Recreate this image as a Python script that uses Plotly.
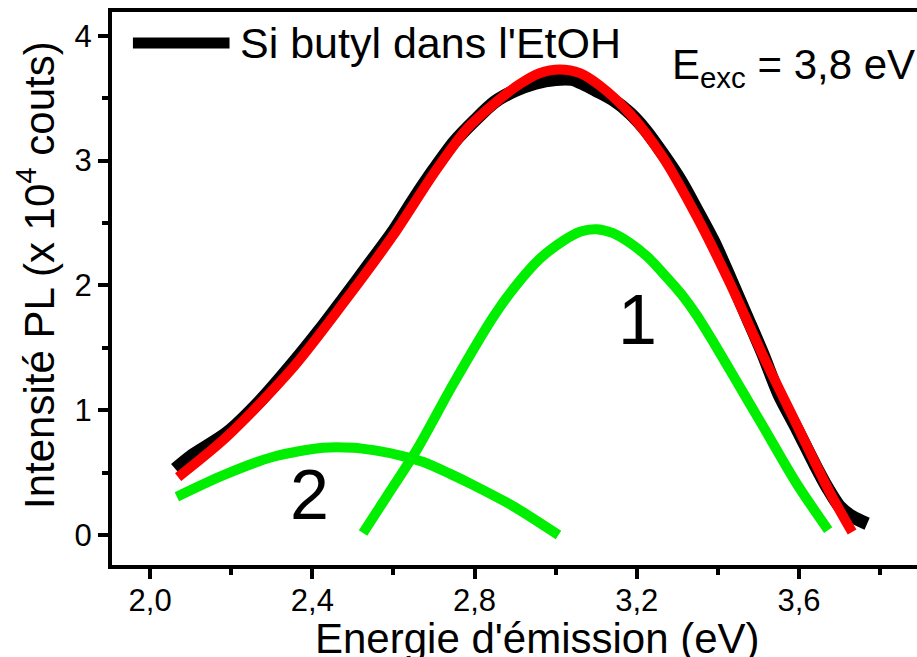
import plotly.graph_objects as go

# ---- data ----
exp_E = [2.062, 2.10, 2.19, 2.27, 2.353, 2.42, 2.476, 2.54, 2.599, 2.65, 2.70, 2.75,
         2.80, 2.85, 2.90, 2.95, 3.00, 3.04, 3.07, 3.10, 3.14, 3.183, 3.22, 3.265,
         3.31, 3.349, 3.39, 3.43, 3.47, 3.511, 3.55, 3.595, 3.64, 3.67, 3.70, 3.73, 3.768]
exp_I = [0.53, 0.63, 0.82, 1.07, 1.38, 1.65, 1.89, 2.17, 2.43, 2.69, 2.93, 3.15,
         3.32, 3.47, 3.56, 3.62, 3.65, 3.65, 3.61, 3.56, 3.49, 3.38, 3.25, 3.05,
         2.83, 2.60, 2.35, 2.06, 1.76, 1.45, 1.13, 0.85, 0.56, 0.38, 0.23, 0.15, 0.09]

fit_E = [2.069, 2.19, 2.353, 2.476, 2.599, 2.70, 2.78, 2.85, 2.91, 2.96, 3.01, 3.06,
         3.109, 3.183, 3.265, 3.349, 3.430, 3.511, 3.595, 3.677, 3.731]
fit_I = [0.464, 0.79, 1.344, 1.856, 2.40, 2.90, 3.25, 3.46, 3.61, 3.70, 3.73, 3.70,
         3.60, 3.376, 3.024, 2.544, 2.016, 1.44, 0.88, 0.336, 0.024]

c1_E = [2.525, 2.583, 2.657, 2.748, 2.846, 2.90, 2.96, 3.02, 3.06, 3.10, 3.14, 3.183,
        3.226, 3.266, 3.31, 3.348, 3.39, 3.430, 3.512, 3.594, 3.672]
c1_I = [0.016, 0.307, 0.68, 1.213, 1.747, 1.99, 2.21, 2.36, 2.43, 2.45, 2.42, 2.34,
        2.23, 2.093, 1.93, 1.76, 1.54, 1.32, 0.867, 0.413, 0.04]

c2_E = [2.066, 2.181, 2.304, 2.427, 2.50, 2.551, 2.62, 2.674, 2.74, 2.797, 2.896, 3.007]
c2_I = [0.307, 0.48, 0.627, 0.70, 0.70, 0.68, 0.635, 0.585, 0.49, 0.40, 0.23, 0.0]

x_ticks = [2.0, 2.4, 2.8, 3.2, 3.6]
x_ticklabels = ["2,0", "2,4", "2,8", "3,2", "3,6"]
y_ticks = [0, 1, 2, 3, 4]

FONT = "Liberation Sans, Arial, sans-serif"

fig = go.Figure()
fig.add_trace(go.Scatter(x=exp_E, y=exp_I, mode="lines",
                         line=dict(color="black", width=13, shape="spline", smoothing=0.8),
                         name="Si butyl dans l'EtOH", showlegend=False))
fig.add_trace(go.Scatter(x=fit_E, y=fit_I, mode="lines",
                         line=dict(color="#ff0000", width=10, shape="spline", smoothing=0.8),
                         showlegend=False))
fig.add_trace(go.Scatter(x=c1_E, y=c1_I, mode="lines",
                         line=dict(color="#00ee00", width=10, shape="spline", smoothing=0.8),
                         showlegend=False))
fig.add_trace(go.Scatter(x=c2_E, y=c2_I, mode="lines",
                         line=dict(color="#00ee00", width=10, shape="spline", smoothing=0.8),
                         showlegend=False))

# legend (manual)
fig.add_shape(type="line", xref="paper", yref="paper", x0=0.026, x1=0.146, y0=0.944, y1=0.944,
              line=dict(color="black", width=11))
fig.add_annotation(xref="paper", yref="paper", x=0.157, y=0.944, xanchor="left", yanchor="middle",
                   text="Si butyl dans l'EtOH", showarrow=False,
                   font=dict(family=FONT, size=43, color="black"))
fig.add_annotation(xref="paper", yref="paper", x=0.693, y=0.90, xanchor="left", yanchor="middle",
                   text="E<sub>exc</sub> = 3,8 eV", showarrow=False,
                   font=dict(family=FONT, size=42, color="black"))
fig.add_annotation(x=3.203, y=1.72, text="1", showarrow=False,
                   font=dict(family=FONT, size=70, color="black"))
fig.add_annotation(x=2.394, y=0.32, text="2", showarrow=False,
                   font=dict(family=FONT, size=70, color="black"))

# axis titles (placed as in the reference)
fig.add_annotation(xref="paper", yref="paper", x=0.529, y=-0.133, xanchor="center", yanchor="middle",
                   text="Energie d'émission (eV)", showarrow=False,
                   font=dict(family=FONT, size=42, color="black"))
fig.add_annotation(xref="paper", yref="paper", x=-0.0935, y=0.524, xanchor="center", yanchor="middle",
                   text="Intensité PL (x 10<sup>4</sup> couts)", textangle=-90, showarrow=False,
                   font=dict(family=FONT, size=42, color="black"))

fig.update_layout(
    width=917, height=657,
    margin=dict(l=112, r=0, t=12, b=92),
    paper_bgcolor="white", plot_bgcolor="white",
    font=dict(family=FONT, color="black"),
)
fig.update_xaxes(
    range=[1.906, 3.891], showgrid=False, zeroline=False, automargin=False,
    showline=True, linecolor="black", linewidth=4, mirror=True,
    ticks="outside", ticklen=10, tickwidth=4, tickcolor="black",
    tickvals=x_ticks, ticktext=x_ticklabels, tickfont=dict(size=31, family=FONT),
    ticklabelstandoff=-5,
    minor=dict(ticks="outside", ticklen=6, tickwidth=4, tickcolor="black", dtick=0.2, tick0=2.0),
)
fig.update_yaxes(
    range=[-0.24, 4.19], showgrid=False, zeroline=False, automargin=False,
    showline=True, linecolor="black", linewidth=4, mirror=False,
    ticks="outside", ticklen=10, tickwidth=4, tickcolor="black",
    tickvals=y_ticks, tickfont=dict(size=31, family=FONT),
    minor=dict(ticks="outside", ticklen=6, tickwidth=4, tickcolor="black", dtick=0.5, tick0=0),
)

fig.write_html("out.html", config={"displayModeBar": False},
               post_script="document.body.style.margin='0';")
